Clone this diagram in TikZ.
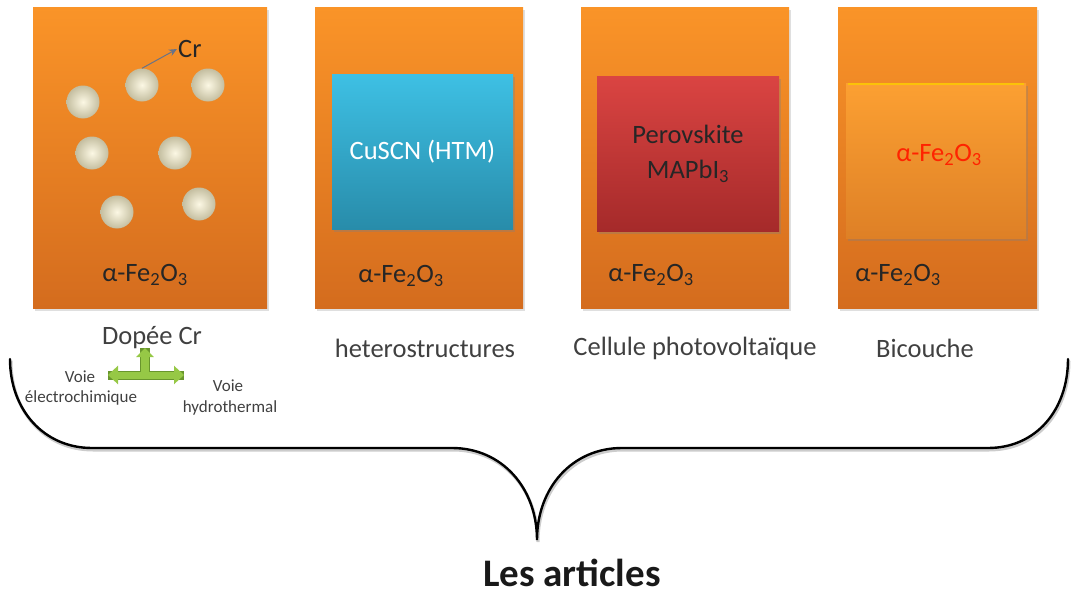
\documentclass[tikz,border=0pt]{standalone}
\usepackage{fontspec}
\setmainfont{Carlito}
\usetikzlibrary{shadows,arrows.meta}
\definecolor{orTop}{RGB}{250,148,40}
\definecolor{orBot}{RGB}{212,108,30}
\definecolor{cyTop}{RGB}{62,192,228}
\definecolor{cyBot}{RGB}{40,140,170}
\definecolor{rdTop}{RGB}{218,68,66}
\definecolor{rdBot}{RGB}{165,42,42}
\definecolor{oiTop}{RGB}{252,160,50}
\definecolor{oiBot}{RGB}{222,128,38}
\definecolor{txtgray}{RGB}{64,64,64}
\definecolor{grn}{RGB}{150,200,70}
\definecolor{grnD}{RGB}{105,150,45}
\definecolor{crarrow}{RGB}{105,115,135}
\begin{document}
\begin{tikzpicture}[x=1pt,y=-1pt,
  outerbox/.style={rectangle, inner sep=0pt, top color=orTop, bottom color=orBot,
    drop shadow={opacity=0.25, shadow xshift=1.5pt, shadow yshift=-2.5pt}},
  innerbox/.style={rectangle, inner sep=0pt, minimum height=155pt,
    drop shadow={opacity=0.35, shadow xshift=1.5pt, shadow yshift=-2.5pt}},
  dot/.style={circle, inner sep=0pt, minimum size=33pt,
    inner color={rgb,255:red,252;green,248;blue,228}, outer color={rgb,255:red,196;green,190;blue,160}},
  lbl/.style={font=\fontsize{26.5}{30}\selectfont, text=black!85},
  captxt/.style={font=\fontsize{26.5}{30}\selectfont, text=txtgray},
  smalltxt/.style={font=\fontsize{17}{20}\selectfont, text=txtgray, align=center},
  bracepath/.style={line width=2.4pt, black, line cap=round}
]
\useasboundingbox (0,0) rectangle (1072,597);

% outer boxes
\node[outerbox, minimum width=234pt, minimum height=301pt] (b1) at (150,157.5) {};
\node[outerbox, minimum width=208pt, minimum height=301pt] (b2) at (419,157.5) {};
\node[outerbox, minimum width=208pt, minimum height=301pt] (b3) at (685,157.5) {};
\node[outerbox, minimum width=199pt, minimum height=301pt] (b4) at (937.5,157.5) {};

% inner boxes
\node[innerbox, minimum width=181pt, top color=cyTop, bottom color=cyBot,
  text=white, font=\fontsize{26.5}{30}\selectfont] (cu) at (422.5,151.5) {CuSCN (HTM)};
\node[innerbox, minimum width=182pt, top color=rdTop, bottom color=rdBot,
  text=black!85, font=\fontsize{26.5}{35}\selectfont, align=center] (pv) at (688,154)
  {Perovskite\\MAPbI\textsubscript{3}};
\node[innerbox, minimum width=180pt, top color=oiTop, bottom color=oiBot] (bi) at (936,160.5) {};
\draw[line width=1.5pt, yellow!55!orange] ([xshift=2pt,yshift=-1pt]bi.north west) -- ([xshift=-2pt,yshift=-1pt]bi.north east);
\node[font=\fontsize{26.5}{30}\selectfont, text={rgb,255:red,255;green,35;blue,0}] (bit) at (939,155) {α-Fe\textsubscript{2}O\textsubscript{3}};

% circles
\node[dot] (c1) at (83,102) {};
\node[dot] (c2) at (142,85) {};
\node[dot] (c3) at (208,85) {};
\node[dot] (c4) at (92,153) {};
\node[dot] (c5) at (175,153) {};
\node[dot] (c6) at (117,212) {};
\node[dot] (c7) at (199,204) {};
\node[lbl, anchor=west, inner sep=1pt] (cr) at (177,49) {Cr};
\draw[crarrow, line width=1pt, -{Stealth[length=8pt,width=7pt]}] (c2.north) -- (cr.west);

% alpha-Fe2O3 labels
\node[lbl] (f1) at (145,275) {α-Fe\textsubscript{2}O\textsubscript{3}};
\node[lbl] (f2) at (401,276) {α-Fe\textsubscript{2}O\textsubscript{3}};
\node[lbl] (f3) at (651,275) {α-Fe\textsubscript{2}O\textsubscript{3}};
\node[lbl] (f4) at (898,275) {α-Fe\textsubscript{2}O\textsubscript{3}};

% captions
\node[captxt] (k1) at (152,338) {Dopée Cr};
\node[captxt] (k2) at (425,348) {heterostructures};
\node[captxt] (k3) at (695,348) {Cellule photovoltaïque};
\node[captxt] (k4) at (925,348) {Bicouche};

% green arrows
\coordinate (gl) at (108,375);
\coordinate (gr) at (184,375);
\coordinate (gm) at (145,375);
\coordinate (gu) at (145,348);
\draw[grnD, line width=9pt] (gl) -- (gr);
\draw[grnD, line width=9.5pt] (gm) -- (gu);
\draw[grn, line width=7pt, {Triangle[length=10pt,width=18pt]}-{Triangle[length=10pt,width=18pt]}] (gl) -- (gr);
\draw[grn, line width=7.5pt, -{Triangle[length=9pt,width=17pt]}] (gm) -- (gu);
\node[smalltxt] (v1) at (80,377) {Voie};
\node[smalltxt] (v1b) at (81,398) {électrochimique};
\node[smalltxt] (v2) at (228,386) {Voie};
\node[smalltxt] (v2b) at (230,408) {hydrothermal};

% brace
\coordinate (bl) at (10,359);
\coordinate (br) at (1068,359);
\coordinate (tip) at (537,540);
\draw[bracepath, black!20, line width=3pt, transform canvas={xshift=1pt,yshift=-2pt}]
  (bl) .. controls (10,410) and (44,448) .. (92,448) -- (452,448)
  .. controls (502,448) and (537,488) .. (tip)
  .. controls (537,488) and (572,448) .. (622,448) -- (988,448)
  .. controls (1036,448) and (1068,410) .. (br);
\draw[bracepath]
  (bl) .. controls (10,410) and (44,448) .. (92,448) -- (452,448)
  .. controls (502,448) and (537,488) .. (tip)
  .. controls (537,488) and (572,448) .. (622,448) -- (988,448)
  .. controls (1036,448) and (1068,410) .. (br);

\node[font=\bfseries\fontsize{39}{44}\selectfont, text=black!90] (title) at (572,573) {Les articles};
\end{tikzpicture}
\end{document}
